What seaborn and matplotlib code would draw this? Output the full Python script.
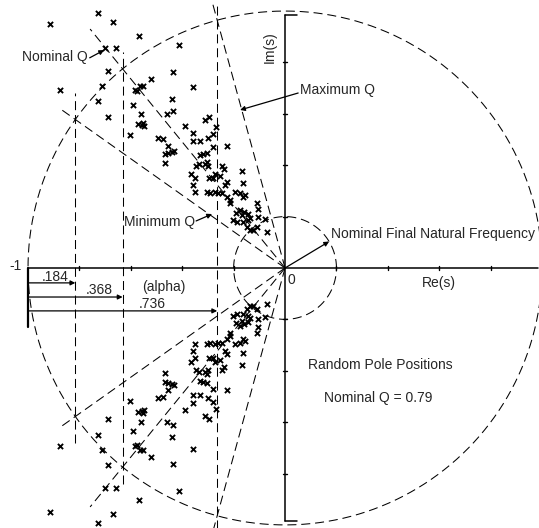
import numpy as np
import pandas as pd
import matplotlib
matplotlib.use("Agg")
import matplotlib.pyplot as plt
import seaborn as sns

# ---- data: upper-half pole positions (conjugates mirrored) ----
re_upper = [-0.914, -0.728, -0.669, -0.568, -0.412, -0.700, -0.658, -0.689, -0.436, -0.875,
            -0.712, -0.584, -0.576, -0.564, -0.553, -0.521, -0.358, -0.728, -0.440, -0.591,
            -0.436, -0.459, -0.689, -0.560, -0.572, -0.556, -0.553, -0.549, -0.603, -0.389,
            -0.311, -0.296, -0.268, -0.358, -0.494, -0.475, -0.455, -0.358, -0.331, -0.300,
            -0.280, -0.280, -0.226, -0.467, -0.455, -0.440, -0.432, -0.467, -0.331, -0.319,
            -0.304, -0.346, -0.335, -0.304, -0.300, -0.245, -0.237, -0.167, -0.366, -0.350,
            -0.296, -0.272, -0.253, -0.280, -0.233, -0.163, -0.358, -0.350, -0.304, -0.292,
            -0.272, -0.261, -0.245, -0.226, -0.214, -0.195, -0.175, -0.156, -0.163, -0.214,
            -0.109, -0.175, -0.160, -0.144, -0.167, -0.191, -0.105, -0.202, -0.187, -0.163,
            -0.144, -0.136, -0.105, -0.078, -0.148, -0.136, -0.125, -0.109, -0.070, -0.226,
            -0.311]
im_upper = [0.949, 0.992, 0.957, 0.903, 0.868, 0.856, 0.856, 0.767, 0.763, 0.693,
            0.708, 0.693, 0.689, 0.708, 0.708, 0.735, 0.704, 0.650, 0.658, 0.634,
            0.611, 0.599, 0.588, 0.599, 0.560, 0.556, 0.564, 0.553, 0.518, 0.553,
            0.576, 0.588, 0.549, 0.525, 0.506, 0.502, 0.475, 0.494, 0.494, 0.506,
            0.521, 0.471, 0.475, 0.444, 0.447, 0.451, 0.455, 0.409, 0.440, 0.444,
            0.447, 0.397, 0.405, 0.412, 0.397, 0.397, 0.385, 0.377, 0.366, 0.350,
            0.350, 0.366, 0.358, 0.350, 0.323, 0.331, 0.323, 0.296, 0.296, 0.292,
            0.296, 0.292, 0.292, 0.276, 0.265, 0.296, 0.292, 0.284, 0.276, 0.253,
            0.253, 0.226, 0.218, 0.210, 0.206, 0.214, 0.230, 0.187, 0.179, 0.179,
            0.187, 0.195, 0.198, 0.191, 0.160, 0.148, 0.148, 0.160, 0.140, 0.335,
            0.405]

alphas = [0.184, 0.368, 0.736]
alpha_labels = [".184", ".368", ".736"]
radial_ext = [1.07, 1.2, 1.07]
vert_ext = [0.68, 0.84, 1.03]
big_radius = 1.0
small_radius = 0.2
freq_arrow_angle = 31
tick_vals = [-0.8, -0.6, -0.4, -0.2, 0.2, 0.4, 0.6, 0.8]
nominal_q = 0.79

sns.set_style("white")
plt.rcParams["font.family"] = ["Liberation Sans", "DejaVu Sans"]
plt.rcParams["lines.scale_dashes"] = False

fig = plt.figure(figsize=(5.39, 5.28), dpi=100)
ax = fig.add_axes([0, 0, 1, 1])
ax.set_xlim(-1.109, 0.988)
ax.set_ylim(-1.012, 1.043)
ax.axis("off")

dash = dict(color="k", lw=0.75, dashes=(6.5, 3.5))
solid = dict(color="k", lw=1.1)

# circles
th = np.linspace(0, 2 * np.pi, 600)
ax.plot(big_radius * np.cos(th), big_radius * np.sin(th), **dash)
ax.plot(small_radius * np.cos(th), small_radius * np.sin(th), **dash)

# radial and vertical construction lines
for a, ext, vh in zip(alphas, radial_ext, vert_ext):
    sig = 1 - a
    w = np.sqrt(1 - sig ** 2)
    for sgn in (1, -1):
        ax.plot([0, -sig * ext], [0, sgn * w * ext], **dash)
    ax.plot([-sig, -sig], [-vh, vh], **dash)

# axes
ax.plot([-1, 0.985], [0, 0], **solid)
ax.plot([0, 0], [-0.985, 0.985], **solid)
for yy in (0.985, -0.985):
    ax.plot([0, 0.045], [yy, yy], **solid)
for t in tick_vals:
    ax.plot([t, t], [-0.007, 0.007], color="k", lw=1.0)
    ax.plot([-0.007, 0.007], [t, t], color="k", lw=1.0)
ax.plot([-1, -1], [0, -0.23], color="k", lw=1.6)

# poles
df = pd.DataFrame({"re": re_upper + re_upper,
                   "im": im_upper + [-v for v in im_upper]})
sns.scatterplot(data=df, x="re", y="im", marker="x", s=14, color="k",
                linewidth=1.35, ax=ax, legend=False, zorder=5)

arr = dict(arrowstyle="-|>", lw=0.9, color="k", mutation_scale=7,
           shrinkA=0, shrinkB=0)

fs = 10

# alpha arrows
arrow_y = [-0.058, -0.113, -0.167]
label_pos = [(-0.895, -0.035), (-0.724, -0.086), (-0.518, -0.140)]
for a, lab, y, (lx, ly) in zip(alphas, alpha_labels, arrow_y, label_pos):
    ax.annotate("", xy=(-1 + a, y), xytext=(-1, y), arrowprops=arr)
    ax.text(lx, ly, lab, ha="center", va="center", fontsize=fs)
ax.text(-0.471, -0.074, "(alpha)", ha="center", va="center", fontsize=fs)

ax.annotate("", xy=(-0.704, 0.848), xytext=(-0.760, 0.818), arrowprops=arr)
ax.text(-0.767, 0.821, "Nominal Q", ha="right", va="center", fontsize=fs)

ax.annotate("", xy=(-0.175, 0.615), xytext=(0.051, 0.681), arrowprops=arr)
ax.text(0.058, 0.693, "Maximum Q", ha="left", va="center", fontsize=fs)

ax.annotate("", xy=(-0.284, 0.210), xytext=(-0.346, 0.183), arrowprops=arr)
ax.text(-0.350, 0.179, "Minimum Q", ha="right", va="center", fontsize=fs)

ax.text(-0.058, 0.860, "Im(s)", ha="center", va="center", rotation=90, fontsize=fs)

ang = np.deg2rad(freq_arrow_angle)
ax.annotate("", xy=(small_radius * np.cos(ang), small_radius * np.sin(ang)),
            xytext=(0, 0), arrowprops=arr)
ax.text(0.179, 0.132, "Nominal Final Natural Frequency", ha="left", va="center", fontsize=fs)

ax.text(0.023, -0.047, "0", ha="center", va="center", fontsize=fs)
ax.text(0.599, -0.058, "Re(s)", ha="center", va="center", fontsize=fs)
ax.text(-1.047, 0.008, "-1", ha="center", va="center", fontsize=fs)
ax.text(0.089, -0.377, "Random Pole Positions", ha="left", va="center", fontsize=fs)
ax.text(0.152, -0.506, f"Nominal Q = {nominal_q}", ha="left", va="center", fontsize=fs)

fig.savefig("out.png", dpi=100)
